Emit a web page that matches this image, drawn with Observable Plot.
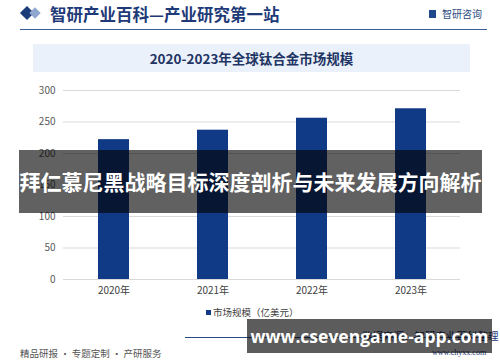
<!DOCTYPE html>
<html>
<head>
<meta charset="utf-8">
<script src="https://cdn.jsdelivr.net/npm/d3@7"></script>
<script src="https://cdn.jsdelivr.net/npm/@observablehq/plot@0.6"></script>
<style>
  html, body { margin: 0; padding: 0; background: #fff; }
  #root { position: relative; width: 500px; height: 362px; overflow: hidden; font-family: "Noto Sans CJK SC", "Noto Sans", sans-serif; background: #fff; }
  .abs { position: absolute; }
  #plot { position: absolute; left: 0; top: 80px; }
  #plot svg { display: block; }
</style>
</head>
<body>
<div id="root">
  <!-- header -->
  <div class="abs" style="left:22px;top:8px;width:10px;height:10px;background:#1b3a7a;transform:rotate(45deg);"></div>
  <div class="abs" style="left:31px;top:9px;width:8px;height:8px;background:#8fa6cf;transform:rotate(45deg);"></div>
  <div class="abs" id="hdr" style="left:50px;top:2px;font-size:16.5px;line-height:24px;color:#1e3a78;font-weight:bold;white-space:nowrap;"></div>
  <div class="abs" style="left:429px;top:10px;width:7px;height:8px;background:#1e4a8c;"></div>
  <div class="abs" id="logo" style="left:442px;top:7px;font-size:10px;line-height:14px;color:#2a4a80;white-space:nowrap;"></div>
  <div class="abs" style="left:20px;top:29px;width:467px;height:1px;background:#3d5f99;"></div>
  <!-- title box -->
  <div class="abs" style="left:33px;top:44px;width:437px;height:28px;background:#eaf1fa;"></div>
  <div class="abs" id="title" style="left:33px;top:44px;width:437px;height:28px;line-height:28px;text-align:center;font-size:13.5px;font-weight:bold;color:#1f3564;white-space:nowrap;"></div>
  <!-- plot -->
  <div id="plot"></div>
  <!-- legend -->
  <div class="abs" style="left:206px;top:310px;width:5px;height:5px;background:#103a86;"></div>
  <div class="abs" id="legend" style="left:213px;top:305px;font-size:9.5px;line-height:14px;color:#404040;white-space:nowrap;"></div>
  <!-- footer -->
  <div class="abs" style="left:185px;top:337px;width:305px;height:1px;background:#2a4a80;"></div>
  <div class="abs" id="footL" style="left:20px;top:346px;font-size:9.5px;line-height:14px;color:#555;white-space:nowrap;"></div>
  <div class="abs" id="source" style="left:362px;top:329px;font-size:10.5px;line-height:14px;color:#1e3a78;white-space:nowrap;"></div>
  <div class="abs" id="site" style="left:432px;top:348px;font-size:8px;line-height:10px;color:#1e3a78;font-family:'Liberation Serif',serif;white-space:nowrap;"></div>
  <!-- overlays -->
  <div class="abs" style="left:19px;top:150px;width:463px;height:63px;background:rgba(0,0,0,0.62);"></div>
  <div class="abs" id="banner" style="left:19px;top:150px;width:463px;height:63px;line-height:63px;text-align:center;font-size:21px;font-weight:bold;color:#fff;white-space:nowrap;"></div>
  <div class="abs" style="left:247px;top:319px;width:245px;height:34px;background:rgba(0,0,0,0.64);"></div>
  <div class="abs" id="url" style="left:247px;top:319px;width:245px;height:34px;line-height:34px;text-align:center;font-size:17.5px;font-weight:bold;color:#fff;font-family:'Open Sans',sans-serif;white-space:nowrap;"></div>
</div>
<script>
const years = ["2020年", "2021年", "2022年", "2023年"];
const marketSize = [222, 237, 256, 271];
const yTicks = [0, 50, 100, 150, 200, 250, 300];
const headerText = "智研产业百科—产业研究第一站";
const logoText = "智研咨询";
const chartTitle = "2020-2023年全球钛合金市场规模";
const legendLabel = "市场规模（亿美元）";
const footerLeft = "精品研报 · 专题定制 · 产研服务";
const sourceText = "数据来源：智研产业百科整理";
const siteText = "www.chyxx.com";
const bannerText = "拜仁慕尼黑战略目标深度剖析与未来发展方向解析";
const urlText = "www.csevengame-app.com";

document.getElementById("hdr").textContent = headerText;
document.getElementById("logo").textContent = logoText;
document.getElementById("title").textContent = chartTitle;
document.getElementById("legend").textContent = legendLabel;
document.getElementById("footL").textContent = footerLeft;
document.getElementById("source").textContent = sourceText;
document.getElementById("site").textContent = siteText;
document.getElementById("banner").textContent = bannerText;
document.getElementById("url").textContent = urlText;

const data = years.map((y, i) => ({year: y, value: marketSize[i]}));

const chart = Plot.plot({
  width: 500,
  height: 225,
  marginLeft: 63,
  marginRight: 40,
  marginTop: 10,
  marginBottom: 26,
  style: {fontSize: "10px", color: "#595959", fontFamily: "'Noto Sans CJK SC', sans-serif", background: "transparent"},
  x: {domain: years, paddingInner: 0.69, paddingOuter: 0.345, label: null, tickSize: 0, tickPadding: 8},
  y: {domain: [0, 300], ticks: yTicks, label: null, tickSize: 0, tickPadding: 8},
  marks: [
    Plot.gridY(yTicks, {stroke: "#d9d9d9", strokeOpacity: 1}),
    Plot.barY(data, {x: "year", y: "value", fill: "#103a86"}),
    Plot.axisX({tickSize: 0, tickPadding: 7, fill: "#404040", fontSize: 10}),
    Plot.axisY(yTicks, {tickSize: 0, tickPadding: 8, fill: "#595959", fontSize: 10})
  ]
});
document.getElementById("plot").appendChild(chart);
</script>
</body>
</html>
